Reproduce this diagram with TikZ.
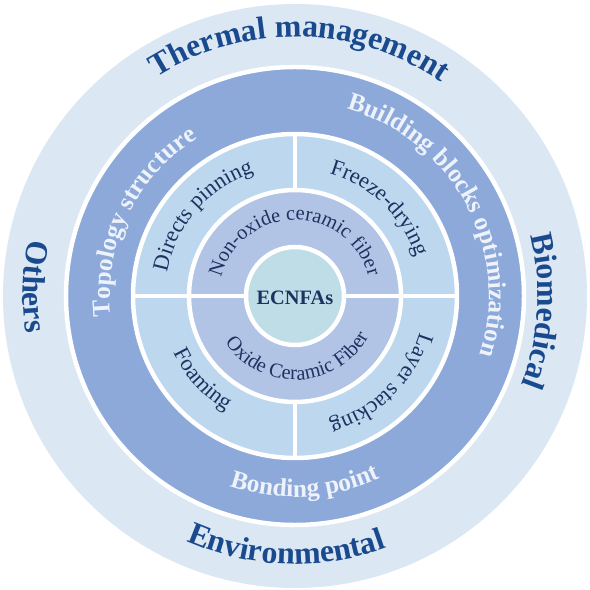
\documentclass[tikz,border=0pt]{standalone}
\usepackage{fontspec}
\setmainfont{Liberation Serif}
\usetikzlibrary{decorations.text}
\definecolor{bgout}{HTML}{DCE7F4}
\definecolor{ringdark}{HTML}{8CA9DA}
\definecolor{quadc}{HTML}{BDD7EE}
\definecolor{innerc}{HTML}{B1C4E6}
\definecolor{corec}{HTML}{BFDDE6}
\definecolor{navyout}{HTML}{1A4A8E}
\definecolor{navyin}{HTML}{1D3261}
\definecolor{ringtxt}{HTML}{EEF2FA}
\newcommand\OuterFont{\fontsize{32}{32}\selectfont\bfseries}
\newcommand\RingFont{\fontsize{25.5}{25.5}\selectfont\bfseries}
\newcommand\QuadFont{\fontsize{22.5}{22.5}\selectfont}
\newcommand\InnerFont{\fontsize{20.5}{20.5}\selectfont}
\newcommand\CoreFont{\fontsize{20.5}{20.5}\selectfont\bfseries}
\begin{document}
\begin{tikzpicture}[x=1bp,y=1bp,
  arctext/.style={decorate,decoration={text along path,text align=center,#1}},
  sep/.style={draw=white,line width=4.5}]
\useasboundingbox (-295,-294) rectangle (295,296);
% discs
\fill[bgout] (0,0) circle (292);
\fill[ringdark,sep] (0,0) circle (229);
\fill[quadc,sep] (0,0) circle (162);
\draw[sep] (-162,0) -- (162,0);
\draw[sep] (0,-162) -- (0,162);
\fill[innerc,sep] (0,0) circle (106);
\draw[sep] (-106,0) -- (106,0);
\fill[corec,sep] (0,0) circle (49);
\node[text=navyin,font=\CoreFont] (ecnfa) at (0,-2) {ECNFAs};
% outer labels
\path[arctext={text color=navyout,text={|\OuterFont|Thermal management}}]
  (160:259) arc[start angle=160,end angle=18,radius=259];
\path[arctext={text color=navyout,text={|\OuterFont|Environmental}}]
  (200:268) arc[start angle=200,end angle=336,radius=268];
\path[arctext={text color=navyout,text={|\OuterFont|Others}}]
  (120:272) arc[start angle=120,end angle=236,radius=272];
\path[arctext={text color=navyout,text={|\OuterFont|Biomedical}}]
  (56.5:243) arc[start angle=56.5,end angle=-63.5,radius=243];
% ring labels
\path[arctext={text color=ringtxt,text={|\RingFont|Topology structure}}]
  (234:185) arc[start angle=234,end angle=74,radius=185];
\path[arctext={text color=ringtxt,text={|\RingFont|Building blocks optimization}}]
  (110:194) arc[start angle=110,end angle=-53,radius=194];
\path[arctext={text color=ringtxt,text={|\RingFont|Bonding point}}]
  (213:201) arc[start angle=213,end angle=333,radius=201];
% quadrant labels
\path[arctext={text color=navyin,text={|\QuadFont|Directs pinning}}]
  (209:130) arc[start angle=209,end angle=69,radius=130];
\path[arctext={text color=navyin,text={|\QuadFont|Freeze-drying}}]
  (116:127) arc[start angle=116,end angle=-24,radius=127];
\path[arctext={text color=navyin,text={|\QuadFont|Foaming}}]
  (162:134) arc[start angle=162,end angle=282,radius=134];
\path[arctext={text color=navyin,text={|\QuadFont|Layer stacking}}]
  (24.5:130) arc[start angle=24.5,end angle=-115.5,radius=130];
% inner ring labels
\path[arctext={text color=navyin,text={|\InnerFont|Non-oxide ceramic fiber}}]
  (178:76) arc[start angle=178,end angle=3,radius=76];
\path[arctext={text color=navyin,text={|\InnerFont|Oxide Ceramic Fiber}}]
  (187:84) arc[start angle=187,end angle=358,radius=84];
\end{tikzpicture}
\end{document}
